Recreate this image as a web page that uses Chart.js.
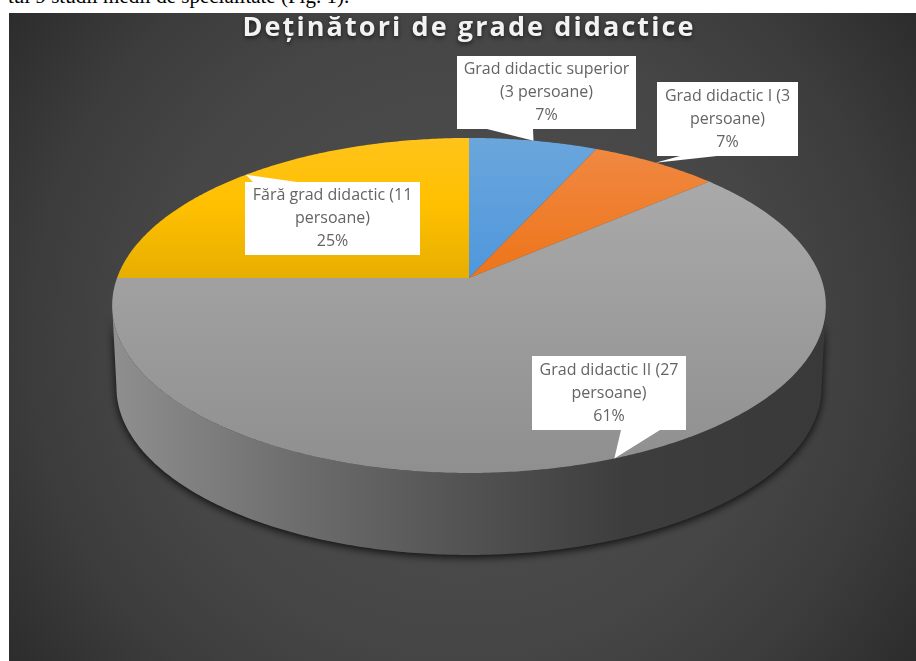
<!DOCTYPE html>
<html>
<head>
<meta charset="utf-8">
<title>Deținători de grade didactice</title>
<script src="https://cdn.jsdelivr.net/npm/chart.js@4"></script>
<style>
  html, body { margin: 0; padding: 0; background: #fff; overflow: hidden; }
  #wrap { position: relative; width: 916px; height: 661px; overflow: hidden; }
  #chart { position: absolute; left: 0; top: 0; }
  #caption {
    position: absolute; left: 8px; top: -16px; white-space: pre;
    font: 21px "Liberation Serif", serif; color: #000;
  }
</style>
</head>
<body>
<div id="wrap">
  <div id="caption">tul 9 studii medii de specialitate (Fig. 1).</div>
  <canvas id="chart" width="916" height="661"></canvas>
</div>
<script>
const categories = ["Grad didactic superior", "Grad didactic I", "Grad didactic II", "Fără grad didactic"];
const persons = [3, 3, 27, 11];
// top face gradients, as [offset, colour] stops
const sliceColors = [
  [[0, "#6aa6dc"], [0.42, "#4f97dc"]],
  [[0, "#f08a45"], [0.42, "#ee7418"]],
  [[0, "#adadad"], [1, "#8f8f8f"]],
  [[0, "#ffc31a"], [0.2, "#ffc000"], [0.42, "#e6ae00"]]
];

// wrapped text and box of each callout, same order as categories
const calloutLines = [
  ["Grad didactic superior", "(3 persoane)"],
  ["Grad didactic I (3", "persoane)"],
  ["Grad didactic II (27", "persoane)"],
  ["Fără grad didactic (11", "persoane)"]
];
const calloutBoxes = [
  { x: 457, y: 56, w: 179, h: 73, tail: [487, 533] },
  { x: 657, y: 82, w: 141, h: 74, tail: [680, 717] },
  { x: 532, y: 356, w: 154, h: 74, tail: [621, 660] },
  { x: 245, y: 182, w: 175, h: 73, tail: [253, 297] }
];

// perspective of the tilted disc: hub on screen and how the unit circle projects
const hub = { x: 469, y: 278 };
const disc = { a: 352, b: 163, k: 0.164 };
const depth = 82;
const floorShrink = 0.988;

function project(u, v) {
  const w = 1 - disc.k * v;
  return { x: hub.x + disc.a * u / w, y: hub.y + disc.b * v / w };
}

function rimPoint(angle) {
  return project(Math.cos(angle), Math.sin(angle));
}

function traceRim(ctx, start, end, dy, shrink) {
  const steps = Math.max(2, Math.ceil(Math.abs(end - start) / 0.01));
  for (let i = 0; i <= steps; i++) {
    const p = rimPoint(start + (end - start) * i / steps);
    ctx.lineTo(hub.x + (p.x - hub.x) * shrink, p.y + dy);
  }
}

const backdrop = {
  id: "backdrop",
  beforeDraw(chart) {
    const ctx = chart.ctx;
    ctx.save();
    const g = ctx.createRadialGradient(462, 337, 0, 462, 337, 620);
    g.addColorStop(0, "#505050");
    g.addColorStop(0.5, "#464646");
    g.addColorStop(0.7, "#3c3c3c");
    g.addColorStop(0.9, "#2c2c2c");
    g.addColorStop(1, "#282828");
    ctx.fillStyle = g;
    ctx.fillRect(9, 13, 907, 648);
    ctx.restore();
    // the title is drawn right after this, it picks these up
    ctx.save();
    ctx.shadowColor = "rgba(0,0,0,0.6)";
    ctx.shadowBlur = 4;
    ctx.shadowOffsetY = 2;
    ctx.letterSpacing = "2.1px";
  },
  beforeDatasetsDraw(chart) {
    chart.ctx.restore();
  }
};

const tiltedPie = {
  id: "tiltedPie",
  beforeDatasetDraw(chart, args) {
    const ctx = chart.ctx;
    const arcs = args.meta.data;

    // side wall with its soft shadow on the floor
    const wall = ctx.createLinearGradient(113, 0, 826, 0);
    wall.addColorStop(0, "#8f8f8f");
    wall.addColorStop(0.25, "#6e6e6e");
    wall.addColorStop(0.5, "#525252");
    wall.addColorStop(0.72, "#3d3d3d");
    wall.addColorStop(1, "#393939");
    ctx.save();
    ctx.shadowColor = "rgba(0,0,0,0.85)";
    ctx.shadowBlur = 9;
    ctx.shadowOffsetY = 2;
    ctx.fillStyle = wall;
    ctx.beginPath();
    const from = Math.asin(disc.k);
    traceRim(ctx, from, Math.PI - from, 0, 1);
    traceRim(ctx, Math.PI - from, from, depth, floorShrink);
    ctx.closePath();
    ctx.fill();
    ctx.restore();

    // top face, one wedge per slice
    arcs.forEach((arc, i) => {
      const g = ctx.createLinearGradient(0, 138, 0, 473);
      sliceColors[i].forEach(s => g.addColorStop(s[0], s[1]));
      ctx.fillStyle = g;
      ctx.beginPath();
      ctx.moveTo(hub.x, hub.y);
      traceRim(ctx, arc.startAngle, arc.endAngle, 0, 1);
      ctx.closePath();
      ctx.fill();
    });
    return false;
  },
  afterDatasetsDraw(chart) {
    const ctx = chart.ctx;
    const arcs = chart.getDatasetMeta(0).data;
    const total = persons.reduce((a, b) => a + b, 0);
    ctx.save();
    ctx.font = '16px "Open Sans"';
    ctx.textAlign = "center";
    ctx.textBaseline = "middle";
    arcs.forEach((arc, i) => {
      const box = calloutBoxes[i];
      const tip = rimPoint((arc.startAngle + arc.endAngle) / 2);
      // tail sits on the edge of the box nearest to the slice
      const edge = box.y > tip.y ? box.y : box.y + box.h;
      ctx.fillStyle = "#ffffff";
      ctx.fillRect(box.x, box.y, box.w, box.h);
      ctx.beginPath();
      ctx.moveTo(box.tail[0], edge);
      ctx.lineTo(tip.x, tip.y);
      ctx.lineTo(box.tail[1], edge);
      ctx.closePath();
      ctx.fill();
      ctx.fillStyle = "#646464";
      const cx = box.x + box.w / 2;
      const cy = box.y + box.h / 2;
      const pct = Math.round(persons[i] / total * 100) + "%";
      calloutLines[i].concat(pct).forEach((line, n) => {
        ctx.fillText(line, cx, cy + (n - 1) * 23);
      });
    });
    ctx.restore();
  }
};

new Chart(document.getElementById("chart"), {
  type: "pie",
  data: {
    labels: categories,
    datasets: [{ data: persons, backgroundColor: sliceColors.map(c => c[0][1]) }]
  },
  plugins: [backdrop, tiltedPie],
  options: {
    responsive: false,
    animation: false,
    layout: { padding: { left: 22 } },
    plugins: {
      legend: { display: false },
      tooltip: { enabled: false },
      title: {
        display: true,
        text: "Deținători de grade didactice",
        color: "#f2f2f2",
        font: { family: "Open Sans", size: 27, weight: "bold" },
        padding: { top: 12, bottom: 10 }
      }
    }
  }
});
</script>
</body>
</html>
